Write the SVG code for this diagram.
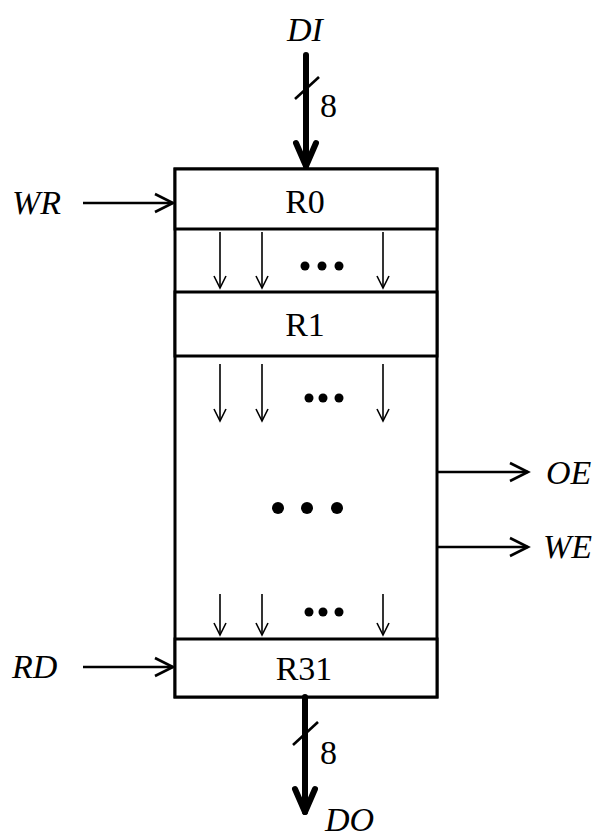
<svg xmlns="http://www.w3.org/2000/svg" width="600" height="838" viewBox="0 0 600 838">
<style>
.box{fill:#fff;stroke:#000;stroke-width:3}
.t{font-family:"Liberation Serif","Times New Roman",serif;font-size:34px;fill:#000}
.i{font-style:italic}
.sa{stroke:#000;stroke-width:1.6;fill:none}
.ca{stroke:#000;stroke-width:2.6;fill:none}
.bus{stroke:#000;stroke-width:6;fill:none;stroke-linecap:round;stroke-linejoin:round}
.sl{stroke:#000;stroke-width:2.6;fill:none}
</style>
<rect width="600" height="838" fill="#fff"/>
<g id="frame"><rect class="box" x="175" y="169" width="262" height="528"/></g>
<g id="R0"><rect class="box" x="175" y="169" width="262" height="60"/><text class="t" x="305" y="213" text-anchor="middle">R0</text></g>
<g id="R1"><rect class="box" x="175" y="292" width="262" height="64"/><text class="t" x="305" y="336" text-anchor="middle">R1</text></g>
<g id="R31"><rect class="box" x="175" y="639" width="262" height="58"/><text class="t" x="304" y="680" text-anchor="middle">R31</text></g>
<g id="dots">
<circle cx="305" cy="266" r="4.5"/><circle cx="322" cy="266" r="4.5"/><circle cx="339" cy="266" r="4.5"/>
<circle cx="309" cy="398" r="4.5"/><circle cx="323" cy="398" r="4.5"/><circle cx="339" cy="398" r="4.5"/>
<circle cx="278" cy="508" r="6"/><circle cx="307" cy="508" r="6"/><circle cx="337" cy="508" r="6"/>
<circle cx="309" cy="612" r="4.5"/><circle cx="323" cy="612" r="4.5"/><circle cx="339" cy="612" r="4.5"/>
</g>
<g id="labels">
<text class="t i" x="287" y="41">DI</text>
<text class="t" x="320" y="117">8</text>
<text class="t i" x="12" y="214">WR</text>
<text class="t i" x="12" y="678">RD</text>
<text class="t i" x="546" y="484">OE</text>
<text class="t i" x="543" y="558">WE</text>
<text class="t" x="320" y="764">8</text>
<text class="t i" x="325" y="831">DO</text>
</g>
<g id="connectors">
<line class="bus" x1="306" y1="55" x2="306" y2="166"/>
<polyline class="bus" points="296,143 306,166 316,143"/>
<line class="sl" x1="295" y1="99" x2="319" y2="77"/>
<line class="bus" x1="305" y1="697" x2="305" y2="812"/>
<polyline class="bus" points="295,789 305,812 315,789"/>
<line class="sl" x1="293" y1="745" x2="318" y2="722"/>
<line class="ca" x1="83" y1="203" x2="173" y2="203"/>
<polyline class="ca" points="155,194 173,203 155,212"/>
<line class="ca" x1="83" y1="667" x2="173" y2="667"/>
<polyline class="ca" points="155,658 173,667 155,676"/>
<line class="ca" x1="437" y1="472" x2="528" y2="472"/>
<polyline class="ca" points="510,463 528,472 510,481"/>
<line class="ca" x1="437" y1="547" x2="528" y2="547"/>
<polyline class="ca" points="510,538 528,547 510,556"/>
<g class="sa">
<line x1="220" y1="232" x2="220" y2="288"/><polyline points="214,276 220,288 226,276"/>
<line x1="262" y1="232" x2="262" y2="288"/><polyline points="256,276 262,288 268,276"/>
<line x1="383" y1="232" x2="383" y2="288"/><polyline points="377,276 383,288 389,276"/>
<line x1="220" y1="364" x2="220" y2="421"/><polyline points="214,409 220,421 226,409"/>
<line x1="262" y1="364" x2="262" y2="421"/><polyline points="256,409 262,421 268,409"/>
<line x1="383" y1="364" x2="383" y2="421"/><polyline points="377,409 383,421 389,409"/>
<line x1="220" y1="594" x2="220" y2="635"/><polyline points="214,623 220,635 226,623"/>
<line x1="262" y1="594" x2="262" y2="635"/><polyline points="256,623 262,635 268,623"/>
<line x1="383" y1="594" x2="383" y2="635"/><polyline points="377,623 383,635 389,623"/>
</g>
</g>
</svg>
